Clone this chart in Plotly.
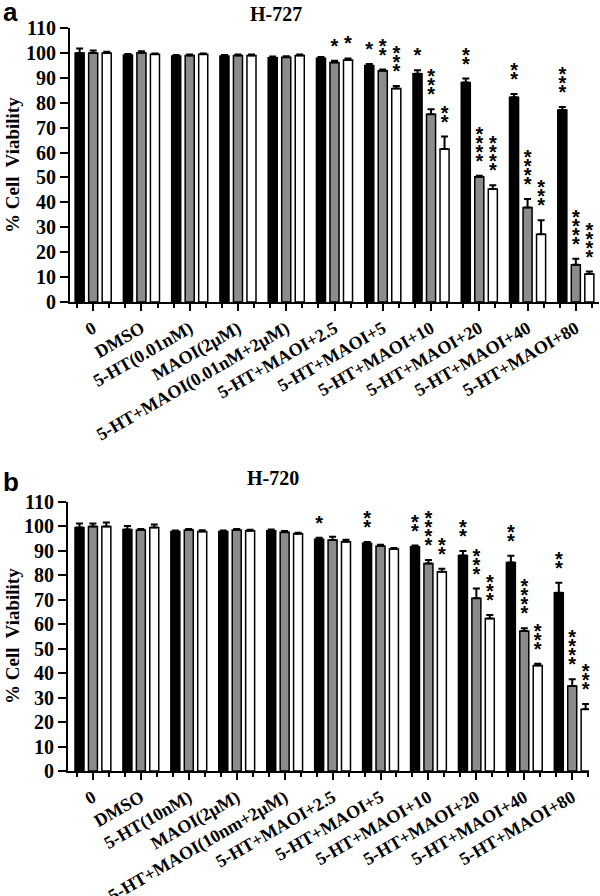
import plotly.graph_objects as go

# ---------------- data ----------------
cats_a = ["0", "DMSO", "5-HT(0.01nM)", "MAOI(2μM)", "5-HT+MAOI(0.01nM+2μM)",
          "5-HT+MAOI+2.5", "5-HT+MAOI+5", "5-HT+MAOI+10", "5-HT+MAOI+20",
          "5-HT+MAOI+40", "5-HT+MAOI+80"]
cats_b = ["0", "DMSO", "5-HT(10nM)", "MAOI(2μM)", "5-HT+MAOI(10nm+2μM)",
          "5-HT+MAOI+2.5", "5-HT+MAOI+5", "5-HT+MAOI+10", "5-HT+MAOI+20",
          "5-HT+MAOI+40", "5-HT+MAOI+80"]

a_black = [100.0, 99.2, 98.8, 98.8, 98.1, 97.9, 94.9, 91.6, 88.1, 82.2, 77.1]
a_gray = [100.0, 100.1, 99.0, 99.0, 98.3, 96.1, 92.8, 75.4, 50.3, 37.9, 15.0]
a_white = [100.0, 99.5, 99.5, 99.0, 99.0, 97.2, 85.7, 61.4, 45.4, 27.2, 11.2]
a_black_err = [1.8, 0.4, 0.4, 0.4, 0.5, 0.5, 0.6, 1.4, 1.6, 1.3, 1.2]
a_gray_err = [1.0, 0.6, 0.4, 0.4, 0.4, 0.8, 0.5, 2.0, 0.4, 3.5, 2.4]
a_white_err = [0.5, 0.3, 0.3, 0.4, 0.4, 0.6, 1.0, 5.0, 1.5, 5.6, 1.0]
a_black_sig = ["", "", "", "", "", "", "*", "*", "**", "**", "***"]
a_gray_sig = ["", "", "", "", "", "*", "**", "***", "****", "****", "****"]
a_white_sig = ["", "", "", "", "", "*", "***", "**", "****", "***", "****"]

b_black = [99.6, 98.8, 97.9, 97.9, 98.2, 94.8, 93.1, 91.7, 88.1, 85.3, 72.9]
b_gray = [100.0, 98.5, 98.5, 98.5, 97.6, 94.5, 92.0, 84.9, 70.6, 57.3, 34.8]
b_white = [100.0, 99.6, 97.9, 98.2, 97.0, 93.7, 90.8, 81.5, 62.4, 43.1, 25.2]
b_black_err = [1.6, 1.4, 0.4, 0.4, 0.6, 0.6, 0.5, 0.5, 1.9, 2.7, 4.1]
b_gray_err = [1.2, 0.5, 0.5, 0.5, 0.5, 1.3, 0.5, 1.4, 4.0, 1.1, 2.7]
b_white_err = [1.6, 1.2, 0.5, 0.5, 0.4, 0.9, 0.4, 1.2, 1.4, 0.8, 2.2]
b_black_sig = ["", "", "", "", "", "*", "**", "**", "**", "**", "**"]
b_gray_sig = ["", "", "", "", "", "", "", "****", "***", "****", "****"]
b_white_sig = ["", "", "", "", "", "", "", "**", "***", "***", "***"]

y_ticks = list(range(0, 111, 10))

# ---------------- styling ----------------
W, H = 600, 896
SERIF = "Liberation Serif, Times New Roman, serif"
SANS = "Liberation Sans, Arial, sans-serif"
COLORS = ["#000000", "#8c8c8c", "#ffffff"]
BARGAP, GROUPGAP = 0.16, 0.33
SLOT = (1 - BARGAP) / 3

fig = go.Figure()

panels = [
    dict(xa="x", ya="y", cats=cats_a,
         vals=[a_black, a_gray, a_white], errs=[a_black_err, a_gray_err, a_white_err],
         sigs=[a_black_sig, a_gray_sig, a_white_sig], gap=1.6, step=3.6),
    dict(xa="x2", ya="y2", cats=cats_b,
         vals=[b_black, b_gray, b_white], errs=[b_black_err, b_gray_err, b_white_err],
         sigs=[b_black_sig, b_gray_sig, b_white_sig], gap=1.6, step=3.7),
]

for p in panels:
    n = len(p["cats"])
    xs_idx = list(range(n))
    for i in range(3):
        vals, errs, sigs = p["vals"][i], p["errs"][i], p["sigs"][i]
        fig.add_trace(go.Bar(
            x=xs_idx, y=vals, xaxis=p["xa"], yaxis=p["ya"],
            marker=dict(color=COLORS[i], line=dict(color="black", width=1.5)),
            error_y=dict(type="data", array=errs, arrayminus=[0] * n, symmetric=False,
                         color="black", thickness=2, width=3.5),
            showlegend=False, hoverinfo="skip"))
        sx, sy = [], []
        for k, s in enumerate(sigs):
            for j in range(len(s)):
                sx.append(k + (i - 1) * SLOT)
                sy.append(vals[k] + errs[k] + p["gap"] + p["step"] * (j + 1))
        if sx:
            fig.add_trace(go.Scatter(
                x=sx, y=sy, mode="text", text=["*"] * len(sx),
                textposition="middle center",
                textfont=dict(family=SANS, size=20, color="black", weight="bold"),
                xaxis=p["xa"], yaxis=p["ya"], showlegend=False, hoverinfo="skip",
                cliponaxis=False))


def px_y(y):
    return 1 - y / H


def xaxis_cfg(domain, rng, cats, anchor):
    n = len(cats)
    minor_vals = []
    for k in range(n):
        minor_vals += [k - 1 / 3, k + 1 / 3]
    return dict(domain=domain, range=rng, anchor=anchor,
                tickmode="array", tickvals=list(range(n)), ticktext=cats,
                tickangle=-30, ticks="outside", ticklen=7, tickwidth=2, tickcolor="black",
                showline=True, linewidth=2, linecolor="black",
                showgrid=False, zeroline=False, automargin=False,
                tickfont=dict(family=SERIF, size=18, color="black", weight="bold"),
                minor=dict(tickmode="array", tickvals=minor_vals, ticks="outside",
                           ticklen=4, tickwidth=2, tickcolor="black", showgrid=False))


def yaxis_cfg(domain, anchor):
    return dict(domain=domain, range=[0, 110], anchor=anchor,
                tickmode="array", tickvals=y_ticks, ticks="outside", ticklen=8,
                tickwidth=2, tickcolor="black",
                showline=True, linewidth=2, linecolor="black",
                showgrid=False, zeroline=False, automargin=False,
                tickfont=dict(family=SERIF, size=20, color="black", weight="bold"))


fig.update_layout(
    width=W, height=H, margin=dict(l=0, r=0, t=0, b=0),
    template="none", paper_bgcolor="white", plot_bgcolor="white",
    barmode="group", bargap=BARGAP, bargroupgap=GROUPGAP,
    xaxis=xaxis_cfg([70 / W, 599 / W], [-0.48, 10.48], cats_a, "y"),
    yaxis=yaxis_cfg([px_y(302), px_y(28)], "x"),
    xaxis2=xaxis_cfg([68 / W, 589 / W], [-0.52, 10.35], cats_b, "y2"),
    yaxis2=yaxis_cfg([px_y(771), px_y(502)], "x2"),
)

annots = [
    dict(text="a", x=1 / W, y=px_y(12), xanchor="left", yanchor="middle",
         font=dict(family=SANS, size=26, color="black", weight="bold")),
    dict(text="b", x=1 / W, y=px_y(482), xanchor="left", yanchor="middle",
         font=dict(family=SANS, size=26, color="black", weight="bold")),
    dict(text="H-727", x=276 / W, y=px_y(14), xanchor="center", yanchor="middle",
         font=dict(family=SERIF, size=20, color="black", weight="bold")),
    dict(text="H-720", x=273 / W, y=px_y(478), xanchor="center", yanchor="middle",
         font=dict(family=SERIF, size=20, color="black", weight="bold")),
    dict(text="% Cell  Viability", x=12 / W, y=px_y(165), xanchor="center",
         yanchor="middle", textangle=-90,
         font=dict(family=SERIF, size=19, color="black", weight="bold")),
    dict(text="% Cell  Viability", x=12 / W, y=px_y(636), xanchor="center",
         yanchor="middle", textangle=-90,
         font=dict(family=SERIF, size=19, color="black", weight="bold")),
]
for a in annots:
    a.update(xref="paper", yref="paper", showarrow=False)
fig.update_layout(annotations=annots)

fig.write_html("out.html", config={"displayModeBar": False},
               post_script="document.body.style.margin='0';document.body.style.padding='0';")
